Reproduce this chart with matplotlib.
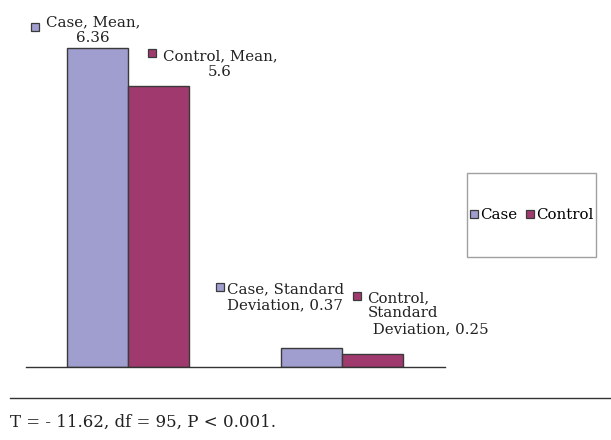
import matplotlib
matplotlib.use("Agg")
import matplotlib.pyplot as plt
from matplotlib.patches import Rectangle
from matplotlib.lines import Line2D
from matplotlib.transforms import offset_copy

groups = ["Mean", "Standard Deviation"]
series = ["Case", "Control"]
case_vals = [6.36, 0.37]
control_vals = [5.6, 0.25]
footnote = "T = - 11.62, df = 95, P < 0.001."

case_color = "#A09ECE"
control_color = "#A03A6E"
edge = "#3a3a3a"

plt.rcParams["font.family"] = ["DejaVu Serif"]
W, H = 611, 440
fig = plt.figure(figsize=(W / 100, H / 100), dpi=100)

# axes placed in pixel terms: baseline at y=367, x from 26 to 445
ymax = 7.0
px_per_unit = (367 - 48) / 6.36
ax = fig.add_axes([26 / W, 1 - 367 / H, (445 - 26) / W, ymax * px_per_unit / H])

x = [0, 1]
bw = 0.285
ax.bar([i - bw / 2 for i in x], case_vals, bw, color=case_color, edgecolor=edge, linewidth=1)
ax.bar([i + bw / 2 for i in x], control_vals, bw, color=control_color, edgecolor=edge, linewidth=1)
ax.set_xlim(-0.477, 1.481)
ax.set_ylim(0, ymax)
for s in ["top", "left", "right"]:
    ax.spines[s].set_visible(False)
ax.spines["bottom"].set_color("#333333")
ax.spines["bottom"].set_linewidth(1)
ax.set_xticks([])
ax.set_yticks([])

fs = 10.8
# data labels: (bar x, value, text, text offset px, ha, line spacing, marker offset px, colour)
labels = [
    (x[0] - bw / 2, case_vals[0], "Case, Mean,\n6.36", (-4.5, 18), "center", 1.1, (-63, 21.5), case_color),
    (x[0] + bw / 2, control_vals[0], "Control, Mean,\n5.6", (61.5, 22), "center", 1.1, (-6.5, 33), control_color),
    (x[1] - bw / 2, case_vals[1], "Case, Standard\nDeviation, 0.37", (-85, 51), "left", 1.2, (-91.5, 61.5), case_color),
    (x[1] + bw / 2, control_vals[1], "Control,\nStandard\n Deviation, 0.25", (-5, 41), "left", 1.15, (-15.5, 58.5), control_color),
]
for bx, val, txt, (dx, dy), ha, ls, (mx, my), col in labels:
    ax.annotate(txt, xy=(bx, val), xytext=(dx, dy), textcoords="offset pixels",
                ha=ha, va="center", multialignment=ha, fontsize=fs, linespacing=ls,
                color="#222222", annotation_clip=False)
    ax.plot([bx], [val], marker="s", markersize=6, markerfacecolor=col,
            markeredgecolor=edge, markeredgewidth=0.9, linestyle="none", clip_on=False,
            transform=offset_copy(ax.transData, fig=fig, x=mx, y=my, units="dots"))

# legend box
fig.patches.append(Rectangle((467 / W, 1 - 257 / H), (596 - 467) / W, (257 - 173) / H,
                             transform=fig.transFigure, facecolor="white",
                             edgecolor="#a0a0a0", linewidth=1))
handles = [Line2D([0], [0], marker="s", markersize=6, markerfacecolor=c,
                  markeredgecolor=edge, markeredgewidth=0.9, linestyle="none")
           for c in [case_color, control_color]]
fig.legend(handles, series, loc="center", bbox_to_anchor=(531.5 / W, 1 - 215 / H),
           ncol=2, frameon=False, fontsize=fs, handlelength=0.6, handletextpad=0.15,
           columnspacing=0.5, borderpad=0)

# separator line and footnote
fig.add_artist(Line2D([10 / W, 1], [1 - 398 / H, 1 - 398 / H], color="#333333", linewidth=1))
fig.text(10 / W, 1 - 422 / H, footnote, ha="left", va="center", fontsize=12, color="#222222")

fig.savefig("out.png", dpi=100)
